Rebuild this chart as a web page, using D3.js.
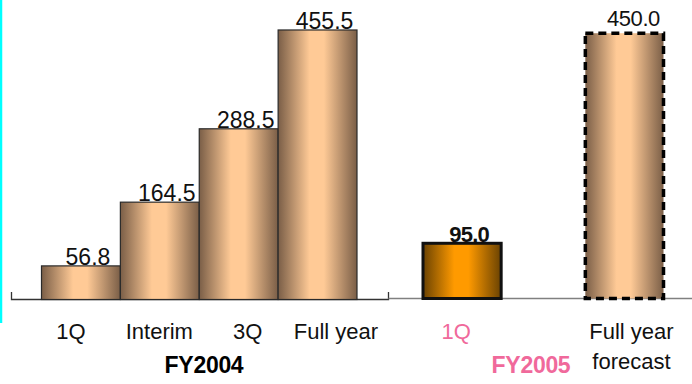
<!DOCTYPE html>
<html>
<head>
<meta charset="utf-8">
<script src="https://cdn.jsdelivr.net/npm/d3@7/dist/d3.min.js"></script>
<style>
  html, body { margin: 0; padding: 0; background: #fff; }
  svg { display: block; font-family: "Liberation Sans", Arial, sans-serif; }
</style>
</head>
<body>
<svg id="chart" width="692" height="384"></svg>
<script>
// Net income by period (billions of yen)
const fy2004Categories = ["1Q", "Interim", "3Q", "Full year"];
const fy2004Values = [56.8, 164.5, 288.5, 455.5];
const fy2004Labels = ["56.8", "164.5", "288.5", "455.5"];

const fy2005Categories = ["1Q", "Full year forecast"];
const fy2005Values = [95.0, 450.0];
const fy2005Labels = ["95.0", "450.0"];
const fy2005TickLines = [["1Q"], ["Full year", "forecast"]];

const groupTitles = ["FY2004", "FY2005"];

const svg = d3.select("#chart");
const defs = svg.append("defs");

// Cylinder-like horizontal shading for the bars
function shade(id, edge, mid) {
  const g = defs.append("linearGradient").attr("id", id)
    .attr("x1", "0%").attr("x2", "100%").attr("y1", "0%").attr("y2", "0%");
  g.append("stop").attr("offset", "0%").attr("stop-color", edge);
  g.append("stop").attr("offset", "40%").attr("stop-color", mid);
  g.append("stop").attr("offset", "58%").attr("stop-color", mid);
  g.append("stop").attr("offset", "100%").attr("stop-color", edge);
}
shade("tan", "#7a5e47", "#ffca96");
shade("orange", "#6a4202", "#ff9a00");

const baseY = 299.5;
const y = d3.scaleLinear().domain([0, 500]).range([baseY, baseY - 500 * 0.5917]);

const x04 = d3.scaleBand().domain(fy2004Categories).range([41.5, 357]).padding(0);
const x04Label = d3.scalePoint().domain(fy2004Categories).range([71, 336]);
const x05 = d3.scaleBand().domain(fy2005Categories).range([421.5, 665]).paddingInner(0.5).paddingOuter(0);

// Cyan rule on the left edge
svg.append("line").attr("x1", 1).attr("x2", 1).attr("y1", 0).attr("y2", 323)
  .attr("stroke", "#00ffff").attr("stroke-width", 2.5);

// Baselines
svg.append("path").attr("d", `M11.5,292V${baseY}H388.5V292`)
  .attr("fill", "none").attr("stroke", "#333").attr("stroke-width", 1.3);
svg.append("line").attr("x1", 388.5).attr("x2", 692).attr("y1", 298.5).attr("y2", 298.5)
  .attr("stroke", "#808080").attr("stroke-width", 1.3);

// FY2004 bars
svg.append("g").selectAll("rect").data(fy2004Values).join("rect")
  .attr("x", (d, i) => x04(fy2004Categories[i]))
  .attr("width", x04.bandwidth())
  .attr("y", d => y(d))
  .attr("height", d => baseY - y(d))
  .attr("fill", "url(#tan)")
  .attr("stroke", "#2a2a2a").attr("stroke-width", 1.2);

// FY2005 bars
const b05 = svg.append("g");
b05.append("rect")
  .attr("x", x05(fy2005Categories[0]) + 1.5)
  .attr("width", x05.bandwidth() - 3)
  .attr("y", y(fy2005Values[0]))
  .attr("height", baseY - y(fy2005Values[0]) - 1)
  .attr("fill", "url(#orange)")
  .attr("stroke", "#111").attr("stroke-width", 3);
b05.append("rect")
  .attr("x", x05(fy2005Categories[1]) + 1.5)
  .attr("width", x05.bandwidth() - 3)
  .attr("y", y(fy2005Values[1]))
  .attr("height", baseY - y(fy2005Values[1]) - 1)
  .attr("fill", "url(#tan)")
  .attr("stroke", "#000").attr("stroke-width", 3.5)
  .attr("stroke-dasharray", "8,5");

// Value labels
svg.append("g").selectAll("text").data(fy2004Values).join("text")
  .attr("x", (d, i) => x04(fy2004Categories[i]) + x04.bandwidth() / 2 + 7)
  .attr("y", d => y(d) - 1)
  .attr("text-anchor", "middle")
  .attr("font-size", 23)
  .attr("fill", "#111")
  .text((d, i) => fy2004Labels[i]);

svg.append("text")
  .attr("x", x05(fy2005Categories[0]) + x05.bandwidth() / 2 + 7)
  .attr("y", y(fy2005Values[0]) - 1.5)
  .attr("text-anchor", "middle")
  .attr("font-size", 22).attr("font-weight", "bold").attr("letter-spacing", -0.8)
  .attr("fill", "#111")
  .text(fy2005Labels[0]);
svg.append("text")
  .attr("x", x05(fy2005Categories[1]) + x05.bandwidth() / 2 + 9)
  .attr("y", y(fy2005Values[1]) - 7)
  .attr("text-anchor", "middle")
  .attr("font-size", 22).attr("letter-spacing", -0.4)
  .attr("fill", "#111")
  .text(fy2005Labels[1]);

// Category labels
svg.append("g").selectAll("text").data(fy2004Categories).join("text")
  .attr("x", d => x04Label(d))
  .attr("y", 339)
  .attr("text-anchor", "middle")
  .attr("font-size", 22)
  .attr("fill", "#111")
  .text(d => d);

const pink = "#f0699b";
fy2005TickLines.forEach((lines, i) => {
  const t = svg.append("text")
    .attr("x", x05(fy2005Categories[i]) + x05.bandwidth() / 2 + (i === 0 ? -6 : 7))
    .attr("y", 339)
    .attr("text-anchor", "middle")
    .attr("font-size", 22)
    .attr("fill", i === 0 ? pink : "#111");
  lines.forEach((s, j) => {
    t.append("tspan").attr("x", t.attr("x")).attr("dy", j === 0 ? 0 : 29.5).text(s);
  });
});

// Group titles
svg.append("text").attr("x", 204).attr("y", 373)
  .attr("text-anchor", "middle").attr("font-size", 23).attr("font-weight", "bold")
  .attr("letter-spacing", -0.3).attr("fill", "#000").text(groupTitles[0]);
svg.append("text").attr("x", 531).attr("y", 373)
  .attr("text-anchor", "middle").attr("font-size", 23).attr("font-weight", "bold")
  .attr("letter-spacing", -0.3).attr("fill", pink).text(groupTitles[1]);
</script>
</body>
</html>
